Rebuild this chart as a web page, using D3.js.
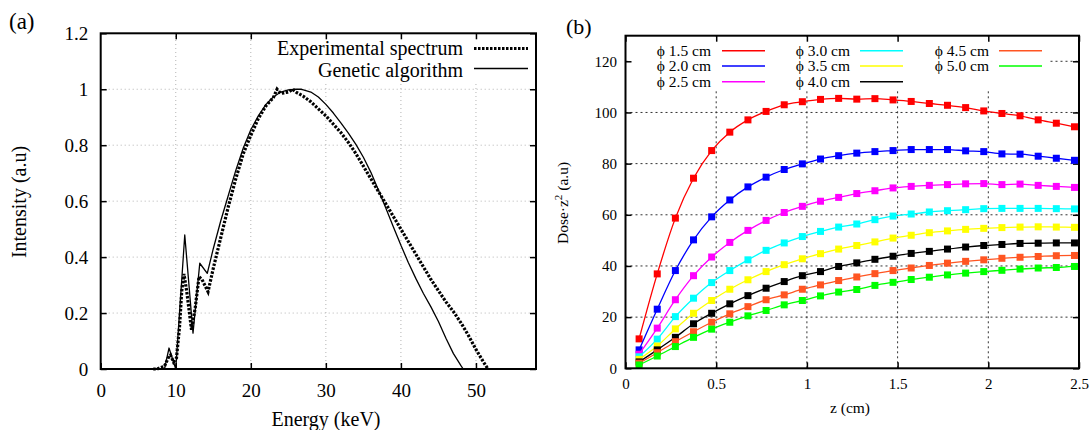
<!DOCTYPE html>
<html>
<head>
<meta charset="utf-8">
<script src="https://cdn.jsdelivr.net/npm/d3@7"></script>
<style>
  body { margin: 0; background: #fff; }
  svg { display: block; font-family: "Liberation Serif", "Times New Roman", serif; }
</style>
</head>
<body>
<svg id="chart" width="1091" height="430" font-family="Liberation Serif, Times New Roman, serif"></svg>
<script>
// ---- panel (a): spectrum ----
const expEnergy = [7, 7.5, 8, 8.5, 9, 9.3, 9.7, 10.1, 10.5, 10.8, 11.1, 11.5, 12.1, 12.6, 13.1, 13.5, 14.3, 15, 16, 17, 18, 19, 20, 21, 22, 23, 23.5, 24, 25, 25.6, 26, 27, 28, 29, 30, 31, 32, 33, 34, 35, 36, 37, 38, 39, 40, 41, 42, 43, 44, 45, 46, 47, 48, 49, 50, 51, 51.6];
const expIntensity = [0, 0, 0.005, 0.01, 0.04, 0.05, 0.025, 0.04, 0.15, 0.28, 0.34, 0.27, 0.14, 0.22, 0.33, 0.32, 0.276, 0.36, 0.47, 0.58, 0.68, 0.77, 0.835, 0.895, 0.94, 0.97, 1.0, 0.985, 0.99, 1.0, 0.99, 0.975, 0.955, 0.93, 0.905, 0.875, 0.845, 0.81, 0.77, 0.725, 0.68, 0.635, 0.59, 0.545, 0.5, 0.455, 0.41, 0.365, 0.32, 0.28, 0.24, 0.205, 0.165, 0.12, 0.07, 0.025, 0];

const gaEnergy = [8, 8.5, 9.1, 10, 11.2, 12.3, 13.2, 14.2, 15, 16, 17, 18, 19, 20, 21, 22, 23, 24, 25, 26, 26.7, 27, 28, 29, 30, 31, 32, 33, 34, 35, 36, 37, 38, 39, 40, 41, 42, 43, 44, 45, 46, 47, 48, 48.3];
const gaIntensity = [0, 0, 0.075, 0, 0.479, 0.128, 0.378, 0.342, 0.43, 0.53, 0.62, 0.71, 0.79, 0.855, 0.905, 0.945, 0.972, 0.99, 0.998, 1.0, 1.0, 0.998, 0.99, 0.972, 0.946, 0.915, 0.88, 0.843, 0.803, 0.757, 0.703, 0.64, 0.575, 0.508, 0.442, 0.38, 0.323, 0.27, 0.222, 0.17, 0.11, 0.055, 0.012, 0];

const energyTicks = [0, 10, 20, 30, 40, 50];
const intensityTicks = [0, 0.2, 0.4, 0.6, 0.8, 1, 1.2];

// ---- panel (b): depth dose ----
const depth = [0.075, 0.175, 0.275, 0.375, 0.475, 0.575, 0.675, 0.775, 0.875, 0.975, 1.075, 1.175, 1.275, 1.375, 1.475, 1.575, 1.675, 1.775, 1.875, 1.975, 2.075, 2.175, 2.275, 2.375, 2.475];
const dose15 = [11.5, 36.9, 58.7, 74.3, 85.1, 92.3, 97.1, 100.4, 103, 104.2, 105.1, 105.5, 105.2, 105.4, 104.9, 104.3, 103.5, 102.8, 101.9, 100.6, 99.6, 98.7, 97.1, 95.8, 94.4];
const dose20 = [7.2, 23.1, 38.2, 50.2, 59.2, 65.8, 70.9, 74.7, 77.7, 79.9, 81.8, 83.1, 84.1, 84.7, 85.1, 85.5, 85.5, 85.5, 85.0, 84.7, 83.8, 83.7, 82.9, 82.1, 81.3];
const dose25 = [5.5, 15.7, 26.8, 36.2, 43.5, 49.2, 53.9, 57.8, 60.9, 63.3, 65.3, 66.8, 68.3, 69.4, 70.5, 71.1, 71.5, 71.8, 72.1, 72.2, 71.8, 72.0, 71.5, 71.1, 70.7];
const dose30 = [4.5, 11.4, 20.2, 27.4, 33.5, 38.2, 42.4, 46.1, 49.0, 51.5, 53.5, 55.2, 56.4, 58.1, 59.5, 60.3, 61.1, 61.6, 62.0, 62.4, 62.5, 62.5, 62.5, 62.4, 62.3];
const dose35 = [3.5, 8.7, 15.4, 21.5, 26.5, 30.9, 34.6, 37.8, 40.5, 42.8, 44.8, 46.6, 48.0, 49.4, 50.9, 52.0, 53.0, 53.7, 54.3, 54.7, 55.0, 55.2, 55.3, 55.2, 55.1];
const dose40 = [2.5, 7.2, 12.1, 17.4, 21.5, 25.2, 28.4, 31.3, 33.9, 36.2, 37.8, 39.8, 41.2, 42.6, 43.8, 44.9, 45.7, 46.6, 47.4, 48.0, 48.4, 48.8, 48.9, 49.0, 49.0];
const dose45 = [2.0, 6.1, 10.4, 14.3, 18.0, 21.3, 24.1, 26.8, 28.7, 30.9, 32.6, 34.3, 35.7, 37.0, 38.2, 39.2, 40.2, 41.1, 41.8, 42.4, 43.0, 43.4, 43.7, 44.0, 44.1];
const dose50 = [1.3, 4.8, 8.5, 12.1, 15.3, 18.0, 20.5, 22.6, 24.8, 26.5, 28.3, 29.8, 30.8, 32.4, 33.6, 34.7, 35.6, 36.5, 37.2, 37.8, 38.3, 38.8, 39.2, 39.4, 39.8];

const diameterLabels = ["ϕ 1.5 cm", "ϕ 2.0 cm", "ϕ 2.5 cm", "ϕ 3.0 cm", "ϕ 3.5 cm", "ϕ 4.0 cm", "ϕ 4.5 cm", "ϕ 5.0 cm"];
const doseSeries = [dose15, dose20, dose25, dose30, dose35, dose40, dose45, dose50];
const seriesColors = ["#ff0000", "#0000ff", "#ff00ff", "#00ffff", "#ffff00", "#000000", "#ff5522", "#00ff00"];

const depthTicks = [0, 0.5, 1, 1.5, 2, 2.5];
const doseTicks = [0, 20, 40, 60, 80, 100, 120];

const FONT = "Liberation Serif, Times New Roman, serif";
const svg = d3.select("#chart");

// =================== panel (a) ===================
const xa = d3.scaleLinear().domain([0, 58]).range([100.7, 536]);
const ya = d3.scaleLinear().domain([0, 1.2]).range([369, 33.3]);

const ga = svg.append("g").attr("font-family", FONT);

// grid
ga.selectAll("line.vgrid")
    .data(energyTicks.filter(d => d > 0))
    .enter().append("line")
    .attr("x1", d => xa(d)).attr("x2", d => xa(d))
    .attr("y1", ya(0)).attr("y2", ya(1.2))
    .attr("stroke", "#b4b4b4").attr("stroke-width", 1)
    .attr("stroke-dasharray", "1,3");
ga.selectAll("line.hgrid")
    .data(intensityTicks.filter(d => d > 0 && d < 1.2))
    .enter().append("line")
    .attr("x1", xa(0)).attr("x2", xa(58))
    .attr("y1", d => ya(d)).attr("y2", d => ya(d))
    .attr("stroke", "#b4b4b4").attr("stroke-width", 1)
    .attr("stroke-dasharray", "1,3");

// legend box hides grid behind it
ga.append("rect")
    .attr("x", 268).attr("y", 34).attr("width", 267).attr("height", 47)
    .attr("fill", "#fff");

// axes with inward ticks
function styleAxis(g, size) {
  g.attr("font-family", FONT).attr("font-size", size);
  g.select(".domain").remove();
  g.selectAll(".tick line").attr("stroke", "#000").attr("stroke-width", 1.5);
  g.selectAll(".tick text").attr("fill", "#000");
}

ga.append("g")
    .attr("transform", `translate(0,${ya(0)})`)
    .call(d3.axisBottom(xa).tickValues(energyTicks).tickSize(-6).tickPadding(14.5).tickFormat(d3.format("d")))
    .call(g => styleAxis(g, 19));
ga.append("g")
    .attr("transform", `translate(0,${ya(1.2)})`)
    .call(d3.axisTop(xa).tickValues(energyTicks.filter(d => d > 0)).tickSize(-6).tickFormat(""))
    .call(g => styleAxis(g, 19));
ga.append("g")
    .attr("transform", `translate(${xa(0)},0)`)
    .call(d3.axisLeft(ya).tickValues(intensityTicks).tickSize(-6).tickPadding(12.5).tickFormat(d => String(+d.toFixed(1))))
    .call(g => styleAxis(g, 19));
ga.append("g")
    .attr("transform", `translate(${xa(58)},0)`)
    .call(d3.axisRight(ya).tickValues(intensityTicks).tickSize(-6).tickFormat(""))
    .call(g => styleAxis(g, 19));

// curves
const lineA = d3.line().x(d => xa(d[0])).y(d => ya(d[1]));
ga.append("path")
    .datum(gaEnergy.map((e, i) => [e, gaIntensity[i]]))
    .attr("d", lineA)
    .attr("fill", "none").attr("stroke", "#000").attr("stroke-width", 1.3)
    .attr("stroke-linejoin", "round");
ga.append("path")
    .datum(expEnergy.map((e, i) => [e, expIntensity[i]]))
    .attr("d", lineA)
    .attr("fill", "none").attr("stroke", "#000").attr("stroke-width", 3.2)
    .attr("stroke-dasharray", "2.5,1.5");

// frame
ga.append("rect")
    .attr("x", xa(0)).attr("y", ya(1.2))
    .attr("width", xa(58) - xa(0)).attr("height", ya(0) - ya(1.2))
    .attr("fill", "none").attr("stroke", "#000").attr("stroke-width", 2);

// legend
const legA = [
  { label: "Experimental spectrum", y: 55, ly: 48.5, dash: "2.5,1.5", w: 3.2 },
  { label: "Genetic algorithm", y: 76.5, ly: 68.5, dash: null, w: 1.3 }
];
legA.forEach(d => {
  ga.append("text").attr("x", 463).attr("y", d.y)
      .attr("text-anchor", "end").attr("font-size", 20).text(d.label);
  ga.append("line").attr("x1", 474).attr("x2", 528).attr("y1", d.ly).attr("y2", d.ly)
      .attr("stroke", "#000").attr("stroke-width", d.w)
      .attr("stroke-dasharray", d.dash);
});

ga.append("text").attr("x", 9).attr("y", 29).attr("font-size", 23).text("(a)");
ga.append("text").attr("x", 326).attr("y", 426).attr("text-anchor", "middle")
    .attr("font-size", 20).text("Energy (keV)");
ga.append("text").attr("transform", "translate(26,202) rotate(-90)")
    .attr("text-anchor", "middle").attr("font-size", 20).text("Intensity (a.u)");

// =================== panel (b) ===================
const xb = d3.scaleLinear().domain([0, 2.5]).range([625.5, 1079]);
const yb = d3.scaleLinear().domain([0, 130]).range([368.3, 35.7]);

const gb = svg.append("g").attr("font-family", FONT);

gb.selectAll("line.vgrid")
    .data(depthTicks.filter(d => d > 0 && d < 2.5))
    .enter().append("line")
    .attr("x1", d => xb(d)).attr("x2", d => xb(d))
    .attr("y1", yb(0)).attr("y2", yb(130))
    .attr("stroke", "#333").attr("stroke-width", 1)
    .attr("stroke-dasharray", "2,3");
gb.selectAll("line.hgrid")
    .data(doseTicks.filter(d => d > 0))
    .enter().append("line")
    .attr("x1", xb(0)).attr("x2", xb(2.5))
    .attr("y1", d => yb(d)).attr("y2", d => yb(d))
    .attr("stroke", "#333").attr("stroke-width", 1)
    .attr("stroke-dasharray", "2,3");

gb.append("rect")
    .attr("x", 628).attr("y", 37).attr("width", 422).attr("height", 52)
    .attr("fill", "#fff");

gb.append("g")
    .attr("transform", `translate(0,${yb(0)})`)
    .call(d3.axisBottom(xb).tickValues(depthTicks).tickSize(-6).tickPadding(10).tickFormat(d => String(d)))
    .call(g => styleAxis(g, 15));
gb.append("g")
    .attr("transform", `translate(0,${yb(130)})`)
    .call(d3.axisTop(xb).tickValues(depthTicks).tickSize(-6).tickFormat(""))
    .call(g => styleAxis(g, 15));
gb.append("g")
    .attr("transform", `translate(${xb(0)},0)`)
    .call(d3.axisLeft(yb).tickValues(doseTicks).tickSize(-6).tickPadding(8.5).tickFormat(d3.format("d")))
    .call(g => styleAxis(g, 15));
gb.append("g")
    .attr("transform", `translate(${xb(2.5)},0)`)
    .call(d3.axisRight(yb).tickValues(doseTicks).tickSize(-6).tickFormat(""))
    .call(g => styleAxis(g, 15));

const lineB = d3.line().x(d => xb(d[0])).y(d => yb(d[1])).curve(d3.curveMonotoneX);

doseSeries.forEach((vals, k) => {
  const pts = depth.map((z, i) => [z, vals[i]]);
  gb.append("path").datum(pts).attr("d", lineB)
      .attr("fill", "none").attr("stroke", seriesColors[k]).attr("stroke-width", 1.3);
  gb.selectAll(null).data(pts).enter().append("rect")
      .attr("x", d => xb(d[0]) - 3.5).attr("y", d => yb(d[1]) - 3.5)
      .attr("width", 7).attr("height", 7)
      .attr("fill", seriesColors[k]);
});

gb.append("rect")
    .attr("x", xb(0)).attr("y", yb(130))
    .attr("width", xb(2.5) - xb(0)).attr("height", yb(0) - yb(130))
    .attr("fill", "none").attr("stroke", "#000").attr("stroke-width", 2);

// legend, 3 rows per column
const legCols = [{ tx: 711, lx: 722 }, { tx: 850, lx: 860 }, { tx: 989, lx: 999 }];
const legRows = [50.7, 66, 81.7];
diameterLabels.forEach((label, k) => {
  const c = legCols[Math.floor(k / 3)], r = legRows[k % 3];
  gb.append("text").attr("x", c.tx).attr("y", r + 5.3)
      .attr("text-anchor", "end").attr("font-size", 15.5).text(label);
  gb.append("line").attr("x1", c.lx).attr("x2", c.lx + 43).attr("y1", r).attr("y2", r)
      .attr("stroke", seriesColors[k]).attr("stroke-width", 1.5);
});

gb.append("text").attr("x", 566).attr("y", 34).attr("font-size", 22).text("(b)");
gb.append("text").attr("x", 850).attr("y", 413).attr("text-anchor", "middle")
    .attr("font-size", 15.5).text("z (cm)");
const yLab = gb.append("text").attr("transform", "translate(568,203) rotate(-90)")
    .attr("text-anchor", "middle").attr("font-size", 15.5);
yLab.append("tspan").text("Dose·z");
yLab.append("tspan").attr("dy", -6).attr("font-size", 11).text("2");
yLab.append("tspan").attr("dy", 6).text(" (a.u)");
</script>
</body>
</html>
